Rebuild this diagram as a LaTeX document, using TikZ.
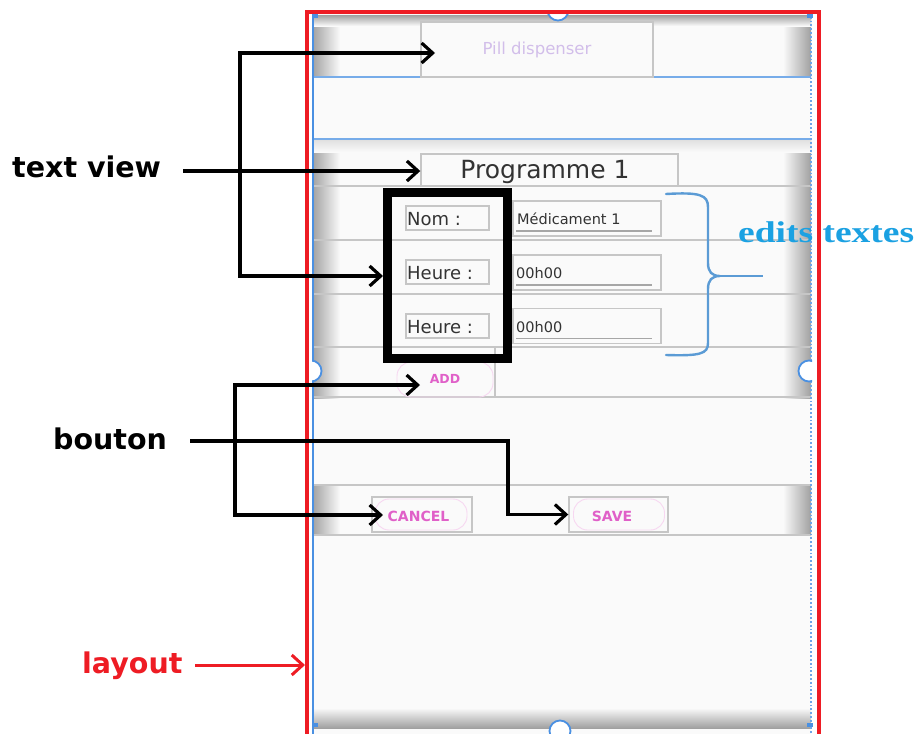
\documentclass[tikz,border=0pt]{standalone}
\usepackage{fontspec}
\setmainfont{DejaVu Sans}
\newfontfamily\serifbf{Liberation Serif}
\usetikzlibrary{arrows.meta}
\definecolor{bg}{HTML}{FAFAFA}
\definecolor{redf}{HTML}{EE1C24}
\definecolor{bluef}{HTML}{4A90E2}
\definecolor{lineg}{HTML}{C6C6C6}
\definecolor{pinkt}{HTML}{E060C8}
\definecolor{purplet}{HTML}{D2BEEA}
\definecolor{bluet}{HTML}{1BA1E2}
\definecolor{braceb}{HTML}{5B9BD5}
\definecolor{shadowg}{HTML}{A0A0A0}
\tikzset{
  fs/.style={font=\fontsize{#1}{#1}\selectfont},
  fsb/.style={font=\bfseries\fontsize{#1}{#1}\selectfont},
  ln/.style={black, line width=3.2pt},
  arr/.style={black, line width=3.2pt, -{Straight Barb[length=11pt,width=20pt]}},
  rarr/.style={redf, line width=3pt, -{Straight Barb[length=11pt,width=20pt]}},
  gbox/.style={draw=lineg, line width=1.4pt, inner sep=0pt},
  sep/.style={lineg, line width=1.8pt},
  blin/.style={bluef!75, line width=1.5pt},
  pill/.style={draw=pinkt!25, line width=0.9pt, rounded corners=14pt, inner sep=0pt},
  lbl/.style={font=\bfseries\fontsize{28.5}{28.5}\selectfont, anchor=base west, inner sep=0pt}
}
\begin{document}
\begin{tikzpicture}[x=1pt,y=-1pt]
\useasboundingbox (0,0) rectangle (919,734);
\clip (0,0) rectangle (919,734);
\fill[white] (0,0) rectangle (919,734);
% phone background
\fill[bg] (312,13) rectangle (811,734);
% shadows of sections
\foreach \ya/\yb in {15/77,139/398,485/535}{
  \shade[left color=shadowg, right color=bg] (312,\ya) rectangle (340,\yb);
  \shade[left color=bg, right color=shadowg] (783,\ya) rectangle (811,\yb);
}
\shade[top color=shadowg, bottom color=bg] (312,15) rectangle (811,26);
\shade[top color=black!12, bottom color=bg] (312,140) rectangle (811,152);
\shade[top color=bg, bottom color=shadowg] (312,708) rectangle (811,728);
% blue separators
\draw[blin] (312,77) -- (811,77);
\draw[blin] (312,139) -- (811,139);
% top bar text view
\node[gbox, minimum width=232pt, minimum height=55pt, fill=bg] (pill) at (537,49.5) {};
\node[fs=16.5, text=purplet] (pilltxt) at (537,50) {Pill dispenser};
% programme
\node[gbox, minimum width=257pt, minimum height=32pt, fill=bg] (prog) at (549.5,170) {};
\node[fs=25, text=black!80, anchor=base] (progtxt) at (545,178) {Programme 1};
% row lines
\foreach \y in {186,240,294,347,397,485,535}{\draw[sep] (312,\y) -- (811,\y);}
% label boxes
\foreach \n/\y in {a/218,b/272,c/326}{
  \node[gbox, minimum width=83pt, minimum height=24pt] (lb\n) at (447.5,\y) {};
}
\node[fs=18, anchor=base west, text=black!80, inner sep=0pt] (nom) at (407,225) {Nom :};
\node[fs=18, anchor=base west, text=black!80, inner sep=0pt] (h1) at (407,279) {Heure :};
\node[fs=18, anchor=base west, text=black!80, inner sep=0pt] (h2) at (407,333) {Heure :};
% edit boxes
\foreach \n/\y in {a/218.5,b/272.5,c/326}{
  \node[gbox, minimum width=148pt, minimum height=35pt] (ed\n) at (587,\y) {};
  \draw[black!35, line width=1.2pt] (516,\y+12.5) -- (652,\y+12.5);
}
\node[fs=14.5, anchor=base west, text=black!80, inner sep=0pt] (med) at (517,224) {Médicament 1};
\node[fs=14.5, anchor=base west, text=black!80, inner sep=0pt] (t1) at (516,278) {00h00};
\node[fs=14.5, anchor=base west, text=black!80, inner sep=0pt] (t2) at (516,332) {00h00};
% ADD
\draw[sep] (495,347) -- (495,397);
\node[pill, minimum width=96pt, minimum height=35pt] (add) at (445,379.5) {};
\node[fsb=12.5, text=pinkt] (addtxt) at (445,379) {ADD};
% CANCEL / SAVE
\node[gbox, minimum width=100pt, minimum height=35pt] (cancel) at (422,514.5) {};
\node[pill, minimum width=92pt, minimum height=31pt] (cancelp) at (421,514.5) {};
\node[fsb=14, text=pinkt] (canceltxt) at (418.5,516) {CANCEL};
\node[gbox, minimum width=99pt, minimum height=35pt] (save) at (618.5,514.5) {};
\node[pill, minimum width=91pt, minimum height=31pt] (savep) at (619,514.5) {};
\node[fsb=14, text=pinkt] (savetxt) at (612,516) {SAVE};
% group box
\node[draw=black, line width=9pt, minimum width=120pt, minimum height=166pt, inner sep=0pt] (grp) at (447.5,275) {};
% blue frame lines and handles
\draw[bluef, line width=1.8pt] (313,13) -- (313,734);
\draw[bluef!80, line width=1.8pt, dotted] (811,13) -- (811,734);
\begin{scope}
\clip (312,13) rectangle (812,734);
\foreach \cx/\cy in {558/10,560/731,311/371,809/371}{
  \draw[bluef, line width=1.8pt, fill=white] (\cx,\cy) circle (10.5pt);
}
\end{scope}
\foreach \cx/\cy in {312/14,807/14,312/723,807/723}{
  \fill[bluef] (\cx,\cy) rectangle ++(6,4);
}
% brace
\draw[braceb, line width=2.4pt, line cap=round]
  (666,194) .. controls (700,192) and (708,195) .. (708,207) -- (708,263)
  .. controls (708,272) and (712,276) .. (720,276)
  .. controls (712,276) and (708,280) .. (708,289) -- (708,343)
  .. controls (708,354) and (700,356) .. (666,355);
\coordinate (bracetip) at (718,276);
\coordinate (braceend) at (763,276);
\draw[braceb, line width=2.4pt] (bracetip) -- (braceend);
% red frame
\draw[redf, line width=4.5pt] (307,12) rectangle (819,745);
% labels
\node[lbl] (tv) at (12,177) {text view};
\node[lbl] (bouton) at (53,449) {bouton};
\node[lbl, text=redf] (layout) at (82,673) {layout};
\node[anchor=base west, inner sep=0pt, text=bluet] (edits) at (738,242)
  {\scalebox{1.25}[1]{\serifbf\bfseries\fontsize{30}{30}\selectfont edits textes}};
% text view connectors
\coordinate (tvs) at (183,171);
\coordinate (tvtop) at (240,53);
\coordinate (tvbot) at (240,276);
\coordinate (pilltip) at (435,53);
\draw[arr] (tvs) -- (prog.west |- tvs);
\draw[ln] (tvtop) -- (tvbot);
\draw[arr] ([xshift=-1.6pt]tvtop) -- (pilltip);
\draw[arr] ([xshift=-1.6pt]tvbot) -- (grp.west |- tvbot);
% bouton connectors
\coordinate (bs) at (190,441);
\coordinate (bcorner) at (508,441);
\coordinate (btop) at (235,385);
\coordinate (bbot) at (235,515);
\coordinate (addtip) at (420,385);
\coordinate (canceltip) at (383,515);
\draw[arr] (bs) -- (bcorner) |- (save.west);
\draw[ln] (btop) -- (bbot);
\draw[arr] ([xshift=-1.6pt]btop) -- (addtip);
\draw[arr] ([xshift=-1.6pt]bbot) -- (canceltip);
% layout connector
\coordinate (ls) at (195,665);
\draw[rarr] (ls) -- (305,665);
\end{tikzpicture}
\end{document}
